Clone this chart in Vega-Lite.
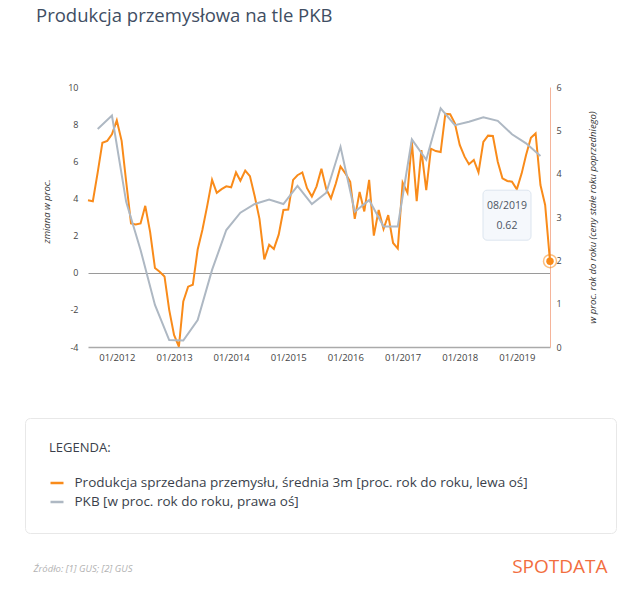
{
  "$schema": "https://vega.github.io/schema/vega-lite/v6.json",
  "width": 462,
  "height": 260,
  "autosize": {"type": "none"},
  "padding": {"left": 88, "top": 87, "right": 90, "bottom": 247},
  "background": "white",
  "config": {
    "font": "Open Sans",
    "view": {"stroke": null},
    "axis": {"grid": false, "ticks": false, "labelFont": "Open Sans", "titleFont": "Open Sans"}
  },
  "title": {
    "text": "Produkcja przemysłowa na tle PKB",
    "anchor": "start",
    "frame": "group",
    "fontSize": 18.5,
    "fontWeight": "normal",
    "color": "#3f4e63",
    "dx": -52,
    "offset": 58
  },
  "datasets": {
    "prod": [
      {"date": "2011-07-01", "value": 3.9},
      {"date": "2011-08-01", "value": 3.85},
      {"date": "2011-09-01", "value": 5.4},
      {"date": "2011-10-01", "value": 7.0},
      {"date": "2011-11-01", "value": 7.1},
      {"date": "2011-12-01", "value": 7.45},
      {"date": "2012-01-01", "value": 8.2},
      {"date": "2012-02-01", "value": 7.1},
      {"date": "2012-03-01", "value": 4.9},
      {"date": "2012-04-01", "value": 2.65},
      {"date": "2012-05-01", "value": 2.6},
      {"date": "2012-06-01", "value": 2.65},
      {"date": "2012-07-01", "value": 3.6},
      {"date": "2012-08-01", "value": 2.2},
      {"date": "2012-09-01", "value": 0.25},
      {"date": "2012-10-01", "value": 0.05},
      {"date": "2012-11-01", "value": -0.2},
      {"date": "2012-12-01", "value": -2.0},
      {"date": "2013-01-01", "value": -3.35},
      {"date": "2013-02-01", "value": -3.98},
      {"date": "2013-03-01", "value": -1.55},
      {"date": "2013-04-01", "value": -0.75},
      {"date": "2013-05-01", "value": -0.65},
      {"date": "2013-06-01", "value": 1.25},
      {"date": "2013-07-01", "value": 2.3},
      {"date": "2013-08-01", "value": 3.6},
      {"date": "2013-09-01", "value": 5.0},
      {"date": "2013-10-01", "value": 4.3},
      {"date": "2013-11-01", "value": 4.5},
      {"date": "2013-12-01", "value": 4.65},
      {"date": "2014-01-01", "value": 4.6},
      {"date": "2014-02-01", "value": 5.4},
      {"date": "2014-03-01", "value": 4.95},
      {"date": "2014-04-01", "value": 5.5},
      {"date": "2014-05-01", "value": 5.2},
      {"date": "2014-06-01", "value": 4.1},
      {"date": "2014-07-01", "value": 2.9},
      {"date": "2014-08-01", "value": 0.72},
      {"date": "2014-09-01", "value": 1.5},
      {"date": "2014-10-01", "value": 1.28},
      {"date": "2014-11-01", "value": 2.05},
      {"date": "2014-12-01", "value": 3.38},
      {"date": "2015-01-01", "value": 3.4},
      {"date": "2015-02-01", "value": 5.0},
      {"date": "2015-03-01", "value": 5.25},
      {"date": "2015-04-01", "value": 5.4},
      {"date": "2015-05-01", "value": 4.55},
      {"date": "2015-06-01", "value": 4.1},
      {"date": "2015-07-01", "value": 4.65},
      {"date": "2015-08-01", "value": 5.6},
      {"date": "2015-09-01", "value": 4.5},
      {"date": "2015-10-01", "value": 4.0},
      {"date": "2015-11-01", "value": 4.8},
      {"date": "2015-12-01", "value": 5.72},
      {"date": "2016-01-01", "value": 5.35},
      {"date": "2016-02-01", "value": 4.9},
      {"date": "2016-03-01", "value": 2.9},
      {"date": "2016-04-01", "value": 4.35},
      {"date": "2016-05-01", "value": 3.3},
      {"date": "2016-06-01", "value": 5.0},
      {"date": "2016-07-01", "value": 2.0},
      {"date": "2016-08-01", "value": 3.38},
      {"date": "2016-09-01", "value": 2.35},
      {"date": "2016-10-01", "value": 3.1},
      {"date": "2016-11-01", "value": 1.6},
      {"date": "2016-12-01", "value": 1.3},
      {"date": "2017-01-01", "value": 4.85},
      {"date": "2017-02-01", "value": 4.3},
      {"date": "2017-03-01", "value": 7.05},
      {"date": "2017-04-01", "value": 3.85},
      {"date": "2017-05-01", "value": 6.6},
      {"date": "2017-06-01", "value": 4.45},
      {"date": "2017-07-01", "value": 6.68},
      {"date": "2017-08-01", "value": 6.55},
      {"date": "2017-09-01", "value": 6.5},
      {"date": "2017-10-01", "value": 8.55},
      {"date": "2017-11-01", "value": 8.53},
      {"date": "2017-12-01", "value": 8.04},
      {"date": "2018-01-01", "value": 6.88},
      {"date": "2018-02-01", "value": 6.25},
      {"date": "2018-03-01", "value": 5.84},
      {"date": "2018-04-01", "value": 6.07},
      {"date": "2018-05-01", "value": 5.4},
      {"date": "2018-06-01", "value": 7.05},
      {"date": "2018-07-01", "value": 7.38},
      {"date": "2018-08-01", "value": 7.36},
      {"date": "2018-09-01", "value": 5.98},
      {"date": "2018-10-01", "value": 5.08},
      {"date": "2018-11-01", "value": 4.94},
      {"date": "2018-12-01", "value": 4.9},
      {"date": "2019-01-01", "value": 4.49},
      {"date": "2019-02-01", "value": 5.35},
      {"date": "2019-03-01", "value": 6.34},
      {"date": "2019-04-01", "value": 7.27},
      {"date": "2019-05-01", "value": 7.5},
      {"date": "2019-06-01", "value": 4.72},
      {"date": "2019-07-01", "value": 3.65},
      {"date": "2019-08-01", "value": 0.62}
    ],
    "pkb": [
      {"date": "2011-09-01", "value": 5.03},
      {"date": "2011-12-01", "value": 5.34},
      {"date": "2012-03-01", "value": 3.35},
      {"date": "2012-06-01", "value": 2.24},
      {"date": "2012-09-01", "value": 0.97},
      {"date": "2012-12-01", "value": 0.16},
      {"date": "2013-03-01", "value": 0.15},
      {"date": "2013-06-01", "value": 0.62},
      {"date": "2013-09-01", "value": 1.78},
      {"date": "2013-12-01", "value": 2.7},
      {"date": "2014-03-01", "value": 3.1},
      {"date": "2014-06-01", "value": 3.3},
      {"date": "2014-09-01", "value": 3.4},
      {"date": "2014-12-01", "value": 3.3},
      {"date": "2015-03-01", "value": 3.72},
      {"date": "2015-06-01", "value": 3.3},
      {"date": "2015-09-01", "value": 3.56},
      {"date": "2015-12-01", "value": 4.62},
      {"date": "2016-03-01", "value": 3.12},
      {"date": "2016-06-01", "value": 3.39},
      {"date": "2016-09-01", "value": 2.78},
      {"date": "2016-12-01", "value": 2.78},
      {"date": "2017-03-01", "value": 4.79},
      {"date": "2017-06-01", "value": 4.32},
      {"date": "2017-09-01", "value": 5.51},
      {"date": "2017-12-01", "value": 5.12},
      {"date": "2018-03-01", "value": 5.2},
      {"date": "2018-06-01", "value": 5.3},
      {"date": "2018-09-01", "value": 5.22},
      {"date": "2018-12-01", "value": 4.91},
      {"date": "2019-03-01", "value": 4.7},
      {"date": "2019-06-01", "value": 4.41}
    ]
  },
  "layer": [
    {
      "data": {"name": "prod"},
      "encoding": {
        "x": {
          "field": "date",
          "type": "temporal",
          "scale": {"type": "utc", "domain": [{"year": 2011, "month": 7, "date": 1, "utc": true}, {"year": 2019, "month": 8, "date": 1, "utc": true}]},
          "axis": {
            "orient": "bottom",
            "values": [
              {"year": 2012, "month": 1, "date": 1, "utc": true},
              {"year": 2013, "month": 1, "date": 1, "utc": true},
              {"year": 2014, "month": 1, "date": 1, "utc": true},
              {"year": 2015, "month": 1, "date": 1, "utc": true},
              {"year": 2016, "month": 1, "date": 1, "utc": true},
              {"year": 2017, "month": 1, "date": 1, "utc": true},
              {"year": 2018, "month": 1, "date": 1, "utc": true},
              {"year": 2019, "month": 1, "date": 1, "utc": true}
            ],
            "labelExpr": "utcFormat(datum.value, '%m/%Y')",
            "labelFontSize": 9.5,
            "labelColor": "#444444",
            "labelPadding": 5,
            "labelFlush": false,
            "domain": true,
            "domainColor": "#aaaaaa",
            "domainWidth": 1.5,
            "ticks": false,
            "grid": false,
            "title": "Źródło: [1] GUS; [2] GUS",
            "titleFontSize": 9.5,
            "titleFontStyle": "italic",
            "titleFontWeight": "normal",
            "titleColor": "#b3b3b3",
            "titleAlign": "left",
            "titleBaseline": "middle",
            "titleAngle": 0,
            "titleX": -55,
            "titleY": 221
          }
        },
        "y": {
          "field": "value",
          "type": "quantitative",
          "scale": {"domain": [-4, 10], "nice": false, "zero": false},
          "axis": {
            "orient": "left",
            "values": [-4, -2, 0, 2, 4, 6, 8, 10],
            "labelExpr": "'' + datum.value",
            "domain": false,
            "ticks": false,
            "grid": true,
            "gridColor": "#9a9a9a",
            "gridWidth": 1,
            "gridOpacity": {"condition": {"test": "datum.value === 0", "value": 1}, "value": 0},
            "labelFontSize": 9,
            "labelColor": "#444444",
            "labelPadding": 10,
            "title": "zmiana w proc.",
            "titleFontSize": 9.5,
            "titleFontStyle": "italic",
            "titleFontWeight": "normal",
            "titleColor": "#333333",
            "titleAngle": 270,
            "titleAlign": "center",
            "titleBaseline": "middle",
            "titleX": -42,
            "titleY": 124
          }
        }
      },
      "layer": [
        {
          "mark": {"type": "line", "strokeWidth": 2},
          "encoding": {
            "color": {
              "datum": "Produkcja sprzedana przemysłu, średnia 3m [proc. rok do roku, lewa oś]",
              "type": "nominal",
              "scale": {
                "domain": ["Produkcja sprzedana przemysłu, średnia 3m [proc. rok do roku, lewa oś]", "PKB [w proc. rok do roku, prawa oś]"],
                "range": ["#f98b1a", "#aeb8c3"]
              },
              "legend": {
                "orient": "none",
                "legendX": -63,
                "legendY": 331,
                "direction": "vertical",
                "title": "LEGENDA:\u2003\u2003\u2003\u2003\u2003\u2003\u2003\u2003\u2003\u2003\u2003\u2003\u2003\u2003\u2003\u2003\u2003\u2003\u2003\u2003\u2003\u2003\u2003\u2003\u2003\u2003\u2003\u2003\u2003\u2003\u2003\u2003\u2003\u2003\u2003\u2003\u2003\u200b",
                "titleFontSize": 13,
                "titleFontWeight": "normal",
                "titleColor": "#3a3f4b",
                "titlePadding": 20,
                "titleLimit": 900,
                "labelLimit": 900,
                "labelFontSize": 13.5,
                "labelColor": "#3a3f4b",
                "labelOffset": 9.5,
                "symbolType": "stroke",
                "symbolSize": 169,
                "symbolStrokeWidth": 2.5,
                "rowPadding": 4,
                "padding": 24,
                "strokeColor": "#e8e8e8",
                "fillColor": "white",
                "cornerRadius": 5
              }
            }
          }
        },
        {
          "transform": [{"filter": {"field": "date", "equal": {"year": 2019, "month": 8, "date": 1, "utc": true}}}],
          "mark": {"type": "rect", "fill": "#f5f8fc", "stroke": "#dce5ef", "strokeWidth": 1, "cornerRadius": 4, "xOffset": -67, "x2Offset": -19, "yOffset": -71, "y2Offset": -21},
          "encoding": {
            "x2": {"field": "date"},
            "y2": {"field": "value"}
          }
        },
        {
          "transform": [{"filter": {"field": "date", "equal": {"year": 2019, "month": 8, "date": 1, "utc": true}}}],
          "mark": {"type": "text", "dx": -43, "dy": -55.5, "fontSize": 10.5, "color": "#4d5562", "align": "center", "baseline": "middle"},
          "encoding": {
            "text": {"field": "date", "timeUnit": "utcyearmonth", "type": "temporal", "format": "%m/%Y"}
          }
        },
        {
          "transform": [{"filter": {"field": "date", "equal": {"year": 2019, "month": 8, "date": 1, "utc": true}}}],
          "mark": {"type": "text", "dx": -43, "dy": -35, "fontSize": 10.5, "color": "#4d5562", "align": "center", "baseline": "middle"},
          "encoding": {
            "text": {"field": "value", "type": "quantitative", "format": ".2f"}
          }
        },
        {
          "transform": [{"filter": {"field": "date", "equal": {"year": 2019, "month": 8, "date": 1, "utc": true}}}],
          "mark": {"type": "point", "filled": false, "size": 170, "strokeWidth": 1.5, "color": "#f98b1a", "opacity": 0.55}
        },
        {
          "transform": [{"filter": {"field": "date", "equal": {"year": 2019, "month": 8, "date": 1, "utc": true}}}],
          "mark": {"type": "point", "filled": true, "size": 55, "color": "#f98b1a", "opacity": 1}
        }
      ]
    },
    {
      "data": {"name": "pkb"},
      "mark": {"type": "line", "strokeWidth": 2},
      "encoding": {
        "x": {
          "field": "date",
          "type": "temporal",
          "scale": {"type": "utc"},
          "axis": {
            "orient": "top",
            "labels": false,
            "ticks": false,
            "domain": false,
            "grid": false,
            "title": "SPOTDATA",
            "titleFontSize": 19,
            "titleFontWeight": "normal",
            "titleColor": "#f26e3f",
            "titleAlign": "right",
            "titleBaseline": "middle",
            "titleAngle": 0,
            "titleX": 519,
            "titleY": 479
          }
        },
        "y": {
          "field": "value",
          "type": "quantitative",
          "scale": {"domain": [0, 6], "nice": false, "zero": false},
          "axis": {
            "orient": "right",
            "values": [0, 1, 2, 3, 4, 5, 6],
            "domain": true,
            "domainColor": "#f5b49a",
            "domainWidth": 1,
            "ticks": false,
            "grid": false,
            "labelFontSize": 9,
            "labelColor": "#444444",
            "labelPadding": 6,
            "title": "w proc. rok do roku (ceny stałe roku poprzedniego)",
            "titleFontSize": 9.5,
            "titleFontStyle": "italic",
            "titleFontWeight": "normal",
            "titleColor": "#333333",
            "titleAngle": 270,
            "titleAlign": "center",
            "titleBaseline": "middle",
            "titleX": 42,
            "titleY": 130
          }
        },
        "color": {"datum": "PKB [w proc. rok do roku, prawa oś]", "type": "nominal"}
      }
    }
  ],
  "resolve": {"scale": {"y": "independent"}, "axis": {"x": "independent"}}
}
